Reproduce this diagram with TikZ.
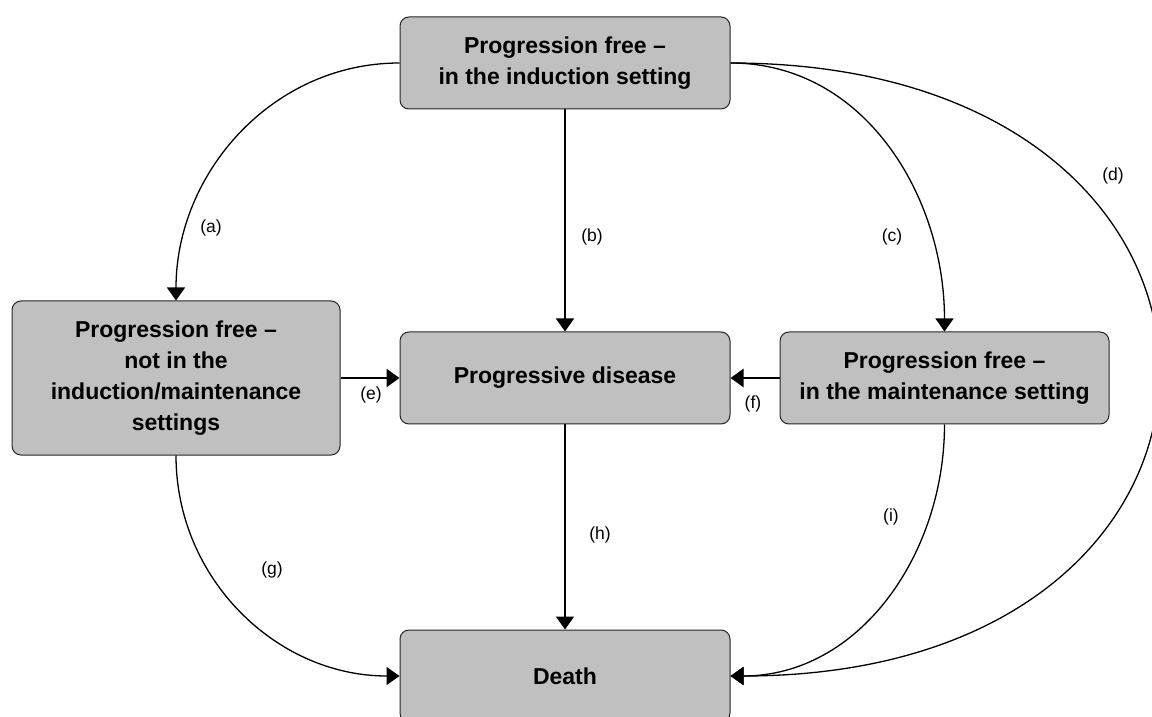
\documentclass[tikz,border=0pt]{standalone}
\usepackage{fontspec}
\setmainfont{Liberation Sans}
\usepackage{xcolor}
\usepackage{tikz}
\usetikzlibrary{arrows.meta}

\definecolor{boxgray}{HTML}{C0C0C0}
\tikzset{
  stbox/.style={draw=black!85, line width=1pt, fill=boxgray, rounded corners=9pt,
    align=center, inner sep=2pt, font=\bfseries\fontsize{23}{31}\selectfont},
  link/.style={line width=1.3pt, -{Triangle[length=13pt,width=18pt]}},
  widelink/.style={link, line width=2.6pt},
  lab/.style={font=\fontsize{17.5}{20}\selectfont}
}

\begin{document}
\begin{tikzpicture}[x=1pt,y=1pt]
\useasboundingbox (0,0) rectangle (1152,716);
% states
\node (ind) at (565,653) [stbox, minimum width=330, minimum height=92] {Progression free --\\in the induction setting};
\node (notin) at (176,338) [stbox, minimum width=328, minimum height=154] {Progression free --\\not in the\\induction/maintenance\\settings};
\node (prog) at (565,338) [stbox, minimum width=330, minimum height=92] {Progressive disease};
\node (maint) at (944.5,338) [stbox, minimum width=329, minimum height=92] {Progression free --\\in the maintenance setting};
\node (death) at (565,40) [stbox, minimum width=330, minimum height=92] {Death};
% transitions
\draw[link] (ind.west) to[out=180,in=90] (notin.north);
\draw[link] (ind) -- (prog);
\draw[link] (ind.east) to[out=0,in=90] (maint.north);
\draw[link] (ind.east) .. controls +(570,0) and +(570,0) .. (death.east);
\draw[widelink] (notin) -- (prog);
\draw[widelink] (maint) -- (prog);
\draw[link] (notin.south) to[out=-90,in=180] (death.west);
\draw[link] (prog) -- (death);
\draw[link] (maint.south) to[out=-90,in=0] (death.east);
% labels
\node (la) at (211,488) [lab] {(a)};
\node (lb) at (592,479) [lab] {(b)};
\node (lc) at (892,479) [lab] {(c)};
\node (ld) at (1113,540) [lab] {(d)};
\node (le) at (371,321) [lab] {(e)};
\node (lf) at (753,312) [lab] {(f)};
\node (lg) at (272,146) [lab] {(g)};
\node (lh) at (600,181) [lab] {(h)};
\node (li) at (891,199) [lab] {(i)};
\end{tikzpicture}
\end{document}
